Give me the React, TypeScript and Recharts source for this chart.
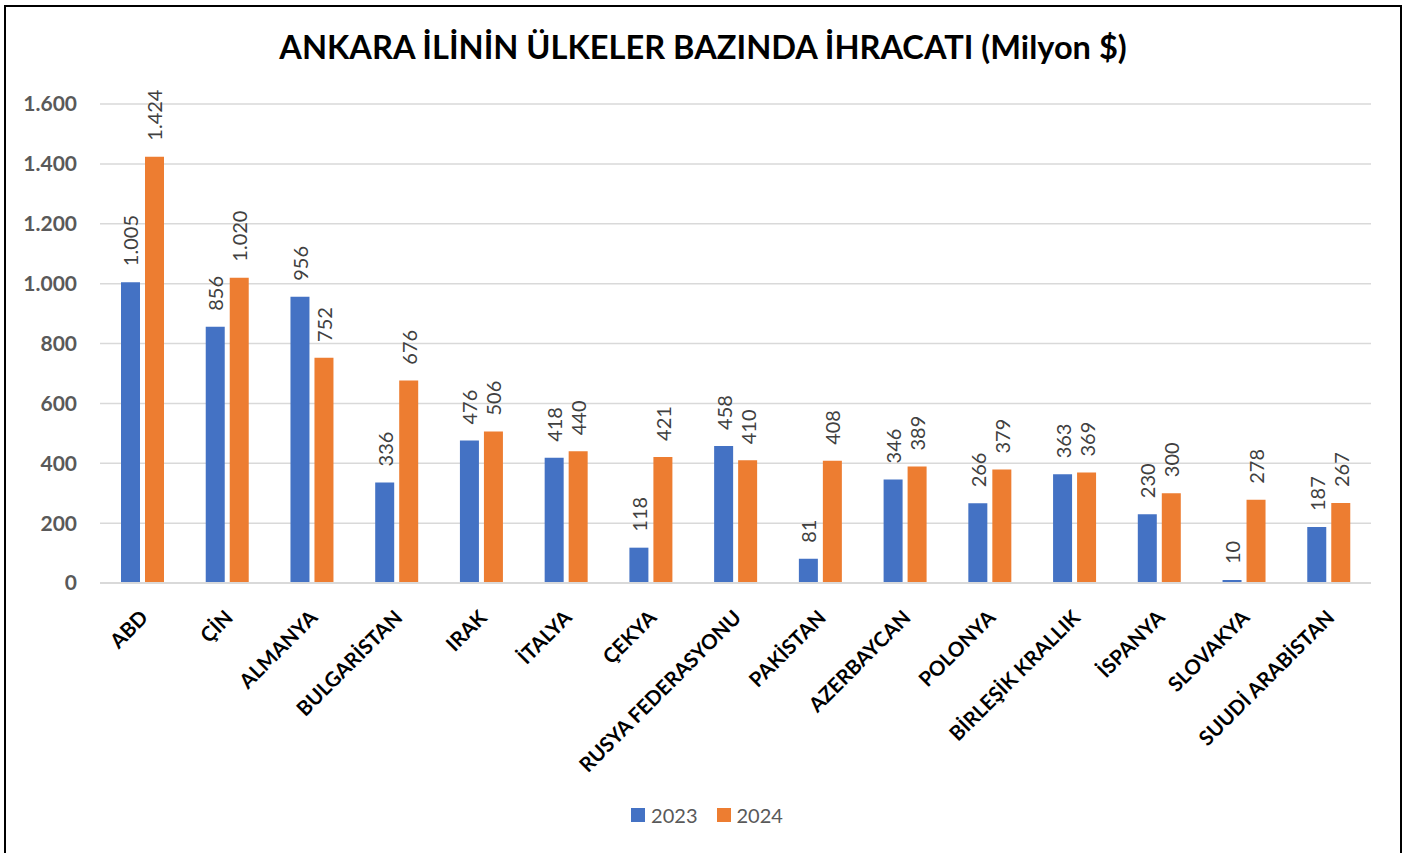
import { BarChart, Bar, XAxis, YAxis, CartesianGrid, Legend, LabelList } from "recharts";

const countries = [
  "ABD", "ÇİN", "ALMANYA", "BULGARİSTAN", "IRAK", "İTALYA", "ÇEKYA",
  "RUSYA FEDERASYONU", "PAKİSTAN", "AZERBAYCAN", "POLONYA", "BİRLEŞİK KRALLIK",
  "İSPANYA", "SLOVAKYA", "SUUDİ ARABİSTAN",
];
const exports2023 = [1005, 856, 956, 336, 476, 418, 118, 458, 81, 346, 266, 363, 230, 10, 187];
const exports2024 = [1424, 1020, 752, 676, 506, 440, 421, 410, 408, 389, 379, 369, 300, 278, 267];
const yTicks = [0, 200, 400, 600, 800, 1000, 1200, 1400, 1600];
const seriesNames = ["2023", "2024"];
const seriesColors = ["#4472C4", "#ED7D31"];

const data = countries.map((name, i) => ({ name, y2023: exports2023[i], y2024: exports2024[i] }));

const FONT = "Lato, 'Open Sans', sans-serif";
const fmt = (v: number) => String(v).replace(/\B(?=(\d{3})+(?!\d))/g, ".");

const XTick = ({ x, y, payload }: any) => (
  <g transform={`translate(${x + 7},${y + 28})`}>
    <text textAnchor="end" transform="rotate(-45)" fontFamily={FONT} fontWeight={700} fontSize={20.5} fill="#000">
      {payload.value}
    </text>
  </g>
);

const BarValue = ({ x, y, width, value }: any) => {
  const cx = x + width / 2;
  const ty = y - 16;
  return (
    <text x={cx} y={ty} transform={`rotate(-90 ${cx} ${ty})`} textAnchor="start" dominantBaseline="central"
      fontFamily={FONT} fontSize={20} fill="#404040">
      {fmt(value)}
    </text>
  );
};

const LegendBox = () => (
  <div style={{ display: "flex", justifyContent: "center", height: 24, alignItems: "center", fontFamily: FONT, fontSize: 20, color: "#595959" }}>
    {seriesNames.map((n, i) => (
      <div key={n} style={{ display: "flex", alignItems: "center", marginRight: i === 0 ? 19 : 0 }}>
        <span style={{ width: 14, height: 14, background: seriesColors[i], display: "inline-block", marginRight: 6 }} />
        <span>{n}</span>
      </div>
    ))}
  </div>
);

export default function App() {
  return (
    <div style={{ position: "absolute", left: 4, top: 5, width: 1398, height: 900, border: "2px solid #000", boxSizing: "border-box", background: "#fff" }}>
      <div style={{ position: "absolute", left: 0, width: 1394, top: 20, textAlign: "center", fontFamily: FONT, fontWeight: 700, fontSize: 32.6, color: "#000" }}>
        ANKARA İLİNİN ÜLKELER BAZINDA İHRACATI (Milyon $)
      </div>
      <BarChart width={1394} height={846} data={data} margin={{ top: 97, right: 29, left: 0, bottom: 26 }}
        barSize={19} barGap={5}>
        <CartesianGrid vertical={false} stroke="#d9d9d9" strokeWidth={1.5} />
        <XAxis dataKey="name" interval={0} tick={<XTick />} tickLine={false} axisLine={{ stroke: "#d9d9d9", strokeWidth: 2 }} height={220} />
        <YAxis domain={[0, 1600]} ticks={yTicks} width={94} tickFormatter={fmt} axisLine={false} tickLine={false}
          tickSize={0} tickMargin={23} tick={{ fontFamily: FONT, fontWeight: 700, fontSize: 21, fill: "#595959" }} />
        <Legend content={<LegendBox />} wrapperStyle={{ left: 0, width: 1402 }} />
        <Bar dataKey="y2023" name={seriesNames[0]} fill={seriesColors[0]} isAnimationActive={false}>
          <LabelList dataKey="y2023" content={<BarValue />} />
        </Bar>
        <Bar dataKey="y2024" name={seriesNames[1]} fill={seriesColors[1]} isAnimationActive={false}>
          <LabelList dataKey="y2024" content={<BarValue />} />
        </Bar>
      </BarChart>
    </div>
  );
}
